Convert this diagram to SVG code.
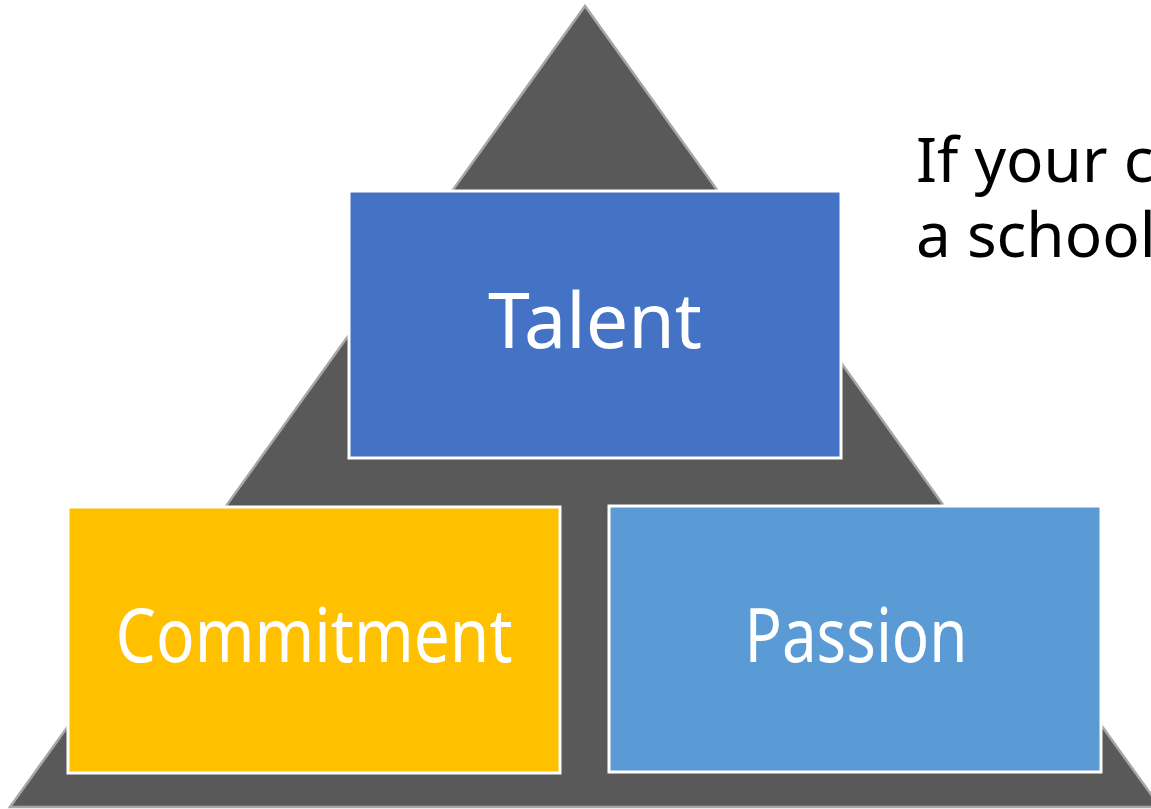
<svg xmlns="http://www.w3.org/2000/svg" width="1151" height="809" viewBox="0 0 1151 809">
<style>
.box{stroke:#ffffff;stroke-width:3}
.lbl{font-family:"Noto Sans","Open Sans",sans-serif;fill:#ffffff;text-anchor:middle}
.side{font-family:"Noto Sans","Open Sans",sans-serif;fill:#000000;font-size:62px}
</style>
<rect width="1151" height="809" fill="#ffffff"/>
<g id="pyramid">
<polygon points="585,6 10,807 1160,807" fill="#595959" stroke="#a6a6a6" stroke-width="2.5"/>
</g>
<g id="talent">
<rect class="box" x="349" y="191" width="492" height="267" fill="#4472C4"/>
<text class="lbl" x="595" y="348" font-size="76" textLength="214" lengthAdjust="spacingAndGlyphs">Talent</text>
</g>
<g id="commitment">
<rect class="box" x="68" y="507" width="492" height="266" fill="#FFC000"/>
<text class="lbl" x="314" y="662" font-size="74" textLength="397" lengthAdjust="spacingAndGlyphs">Commitment</text>
</g>
<g id="passion">
<rect class="box" x="609" y="506" width="492" height="266" fill="#5B9BD5"/>
<text class="lbl" x="856" y="662" font-size="74" textLength="223" lengthAdjust="spacingAndGlyphs">Passion</text>
</g>
<g id="caption">
<text class="side" x="916" y="182">If your c</text>
<text class="side" x="916" y="257">a school</text>
</g>
<g id="connectors"></g>
</svg>
